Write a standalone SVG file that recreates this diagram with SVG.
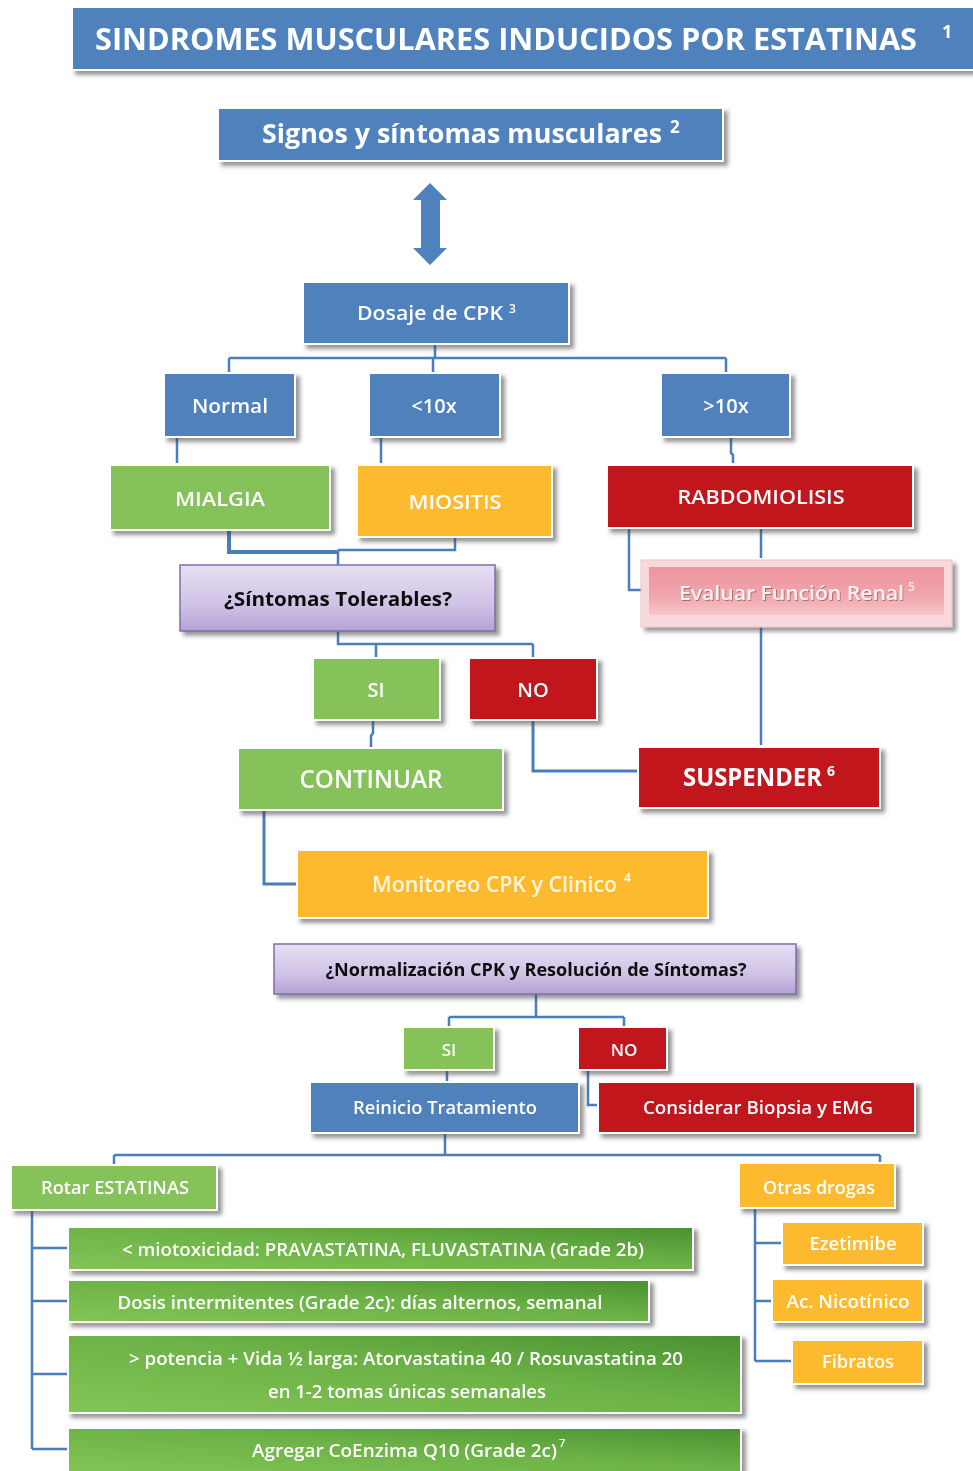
<svg xmlns="http://www.w3.org/2000/svg" width="973" height="1471" viewBox="0 0 973 1471">
<defs>
<filter id="sh" x="-5%" y="-10%" width="115%" height="140%">
<feDropShadow dx="4" dy="4" stdDeviation="2" flood-color="#404040" flood-opacity="0.55"/>
</filter>
<filter id="ts" x="-5%" y="-20%" width="110%" height="150%">
<feDropShadow dx="1" dy="1" stdDeviation="0.6" flood-color="#000" flood-opacity="0.35"/>
</filter>
<linearGradient id="lav" x1="0" y1="0" x2="0" y2="1">
<stop offset="0" stop-color="#E7DFF3"/><stop offset="0.6" stop-color="#CFC2E6"/><stop offset="1" stop-color="#B4A2D5"/>
</linearGradient>
<linearGradient id="pink" x1="0" y1="0" x2="0" y2="1">
<stop offset="0" stop-color="#EE959E"/><stop offset="0.6" stop-color="#F1A5AC"/><stop offset="1" stop-color="#F6C6CA"/>
</linearGradient>
<linearGradient id="grn" x1="0" y1="1" x2="1" y2="0">
<stop offset="0" stop-color="#83C457"/><stop offset="0.55" stop-color="#6CB246"/><stop offset="1" stop-color="#4A9130"/>
</linearGradient>
<style>
.b{fill:#4F81BD;stroke:#fff;stroke-width:2}
.g{fill:#86C25A;stroke:#fff;stroke-width:2}
.y{fill:#FDBA2D;stroke:#fff;stroke-width:2}
.r{fill:#C1161F;stroke:#fff;stroke-width:2}
.l{fill:url(#lav);stroke:#7E6CAB;stroke-width:1.5}
.gg{fill:url(#grn);stroke:#fff;stroke-width:2}
.t{font-family:"Open Sans","Noto Sans",sans-serif;font-weight:600;fill:#fff;text-anchor:middle}
.k{font-family:"Open Sans","Noto Sans",sans-serif;font-weight:700;fill:#111;text-anchor:middle}
.s{font-family:"Open Sans","Noto Sans",sans-serif;font-weight:600;fill:#fff}
.h{font-family:"Open Sans","Noto Sans",sans-serif;font-weight:700;fill:#fff}
.c{fill:none;stroke:#4A7EBB;stroke-width:2.5}
</style>
</defs>
<rect width="973" height="1471" fill="#fff"/>

<g id="connectors">
<path class="c" d="M435 345 V358 M229 358 H726 M229 358 V373 M433 358 V373 M726 358 V373"/>
<path class="c" d="M177 437 V463 M381 437 V463 M731 437 V453 L733 455 V463"/>
<path class="c" d="M229 530 V552 H338" style="stroke-width:4"/>
<path class="c" d="M455 537 V550 H338 M338 550 V565"/>
<path class="c" d="M629 528 V590 H641 M761 528 V558"/>
<path class="c" d="M761 627 V745"/>
<path class="c" d="M338 631 V644 H533 M376 644 V658 M533 644 V658"/>
<path class="c" d="M373 720 V733 L371 736 V748"/>
<path class="c" d="M533 720 V771 H638" style="stroke-width:3"/>
<path class="c" d="M264 810 V884 H297" style="stroke-width:3"/>
<path class="c" d="M536 994 V1017 M449 1017 H624 M449 1017 V1027 M624 1017 V1027"/>
<path class="c" d="M447 1070 V1082 M588 1070 V1105 H598"/>
<path class="c" d="M445 1133 V1155 M114 1155 H880 M114 1155 V1165 M880 1155 V1163"/>
<path class="c" d="M32 1210 V1449 M32 1248 H68 M32 1301 H68 M32 1374 H68 M32 1449 H68"/>
<path class="c" d="M755 1208 V1361 M755 1243 H782 M755 1301 H772 M755 1361 H792"/>
</g>

<g id="title" filter="url(#sh)">
<rect class="b" x="72" y="7" width="910" height="63"/>
<text class="h" x="95" y="50" font-size="31" textLength="822" lengthAdjust="spacingAndGlyphs">SINDROMES MUSCULARES INDUCIDOS POR ESTATINAS</text>
<text class="h" x="942" y="38" font-size="18">1</text>
</g>

<g id="signos" filter="url(#sh)">
<rect class="b" x="218" y="108" width="505" height="53"/>
<text class="h" x="262" y="143" font-size="27" textLength="400" lengthAdjust="spacingAndGlyphs">Signos y síntomas musculares</text>
<text class="h" x="670" y="133" font-size="17">2</text>
</g>

<g id="arrow">
<path d="M430 183 L447 200 H440 V248 H447 L430 265 L413 248 H421 V200 H413 Z" fill="#4F81BD"/>
</g>

<g id="dosaje" filter="url(#sh)">
<rect class="b" x="303" y="282" width="266" height="62"/>
<text class="s" x="357" y="320" font-size="20" textLength="146" lengthAdjust="spacingAndGlyphs">Dosaje de CPK</text>
<text class="s" x="509" y="313" font-size="12">3</text>
</g>

<g id="normal" filter="url(#sh)">
<rect class="b" x="164" y="373" width="131" height="64"/>
<text class="t" x="230" y="413" font-size="20" textLength="76" lengthAdjust="spacingAndGlyphs">Normal</text>
</g>
<g id="menos10x" filter="url(#sh)">
<rect class="b" x="369" y="373" width="131" height="64"/>
<text class="t" x="434" y="413" font-size="20">&lt;10x</text>
</g>
<g id="mas10x" filter="url(#sh)">
<rect class="b" x="661" y="373" width="129" height="64"/>
<text class="t" x="726" y="413" font-size="20">&gt;10x</text>
</g>

<g id="mialgia" filter="url(#sh)">
<rect class="g" x="110" y="465" width="220" height="65"/>
<text class="t" x="220" y="506" font-size="20" textLength="90" lengthAdjust="spacingAndGlyphs">MIALGIA</text>
</g>
<g id="miositis" filter="url(#sh)">
<rect class="y" x="357" y="465" width="195" height="72"/>
<text class="t" x="455" y="509" font-size="20" textLength="93" lengthAdjust="spacingAndGlyphs">MIOSITIS</text>
</g>
<g id="rabdomiolisis" filter="url(#sh)">
<rect class="r" x="607" y="465" width="306" height="63"/>
<text class="t" x="761" y="504" font-size="20" textLength="167" lengthAdjust="spacingAndGlyphs">RABDOMIOLISIS</text>
</g>

<g id="sintomas" filter="url(#sh)">
<rect class="l" x="180" y="565" width="315" height="66"/>
<text class="k" x="338" y="606" font-size="20" textLength="228" lengthAdjust="spacingAndGlyphs">¿Síntomas Tolerables?</text>
</g>

<g id="evaluar" filter="url(#sh)">
<rect x="641" y="560" width="311" height="67" fill="#F9D8DB" stroke="#E8C5C8" stroke-width="1"/>
<rect x="649" y="567" width="295" height="48" fill="url(#pink)"/>
<text class="s" x="679" y="600" font-size="20" textLength="225" lengthAdjust="spacingAndGlyphs" style="fill:#FBEFF0" filter="url(#ts)">Evaluar Función Renal</text>
<text class="s" x="908" y="591" font-size="12" style="fill:#FBEFF0">5</text>
</g>

<g id="si1" filter="url(#sh)">
<rect class="g" x="313" y="658" width="127" height="62"/>
<text class="t" x="376" y="697" font-size="20">SI</text>
</g>
<g id="no1" filter="url(#sh)">
<rect class="r" x="469" y="658" width="128" height="62"/>
<text class="t" x="533" y="697" font-size="20">NO</text>
</g>

<g id="continuar" filter="url(#sh)">
<rect class="g" x="238" y="748" width="265" height="62"/>
<text class="t" x="371" y="788" font-size="26" textLength="143" lengthAdjust="spacingAndGlyphs">CONTINUAR</text>
</g>
<g id="suspender" filter="url(#sh)">
<rect class="r" x="638" y="747" width="242" height="61"/>
<text class="h" x="683" y="786" font-size="25" textLength="139" lengthAdjust="spacingAndGlyphs">SUSPENDER</text>
<text class="h" x="827" y="776" font-size="14">6</text>
</g>

<g id="monitoreo" filter="url(#sh)">
<rect class="y" x="297" y="850" width="411" height="68"/>
<text class="s" x="372" y="892" font-size="21" textLength="245" lengthAdjust="spacingAndGlyphs" style="fill:#FFF6E0">Monitoreo CPK y Clinico</text>
<text class="s" x="624" y="882" font-size="12">4</text>
</g>

<g id="normalizacion" filter="url(#sh)">
<rect class="l" x="274" y="944" width="522" height="50"/>
<text class="k" x="536" y="976" font-size="18" textLength="421" lengthAdjust="spacingAndGlyphs">¿Normalización CPK y Resolución de Síntomas?</text>
</g>

<g id="si2" filter="url(#sh)">
<rect class="g" x="403" y="1027" width="91" height="43"/>
<text class="t" x="449" y="1056" font-size="17">SI</text>
</g>
<g id="no2" filter="url(#sh)">
<rect class="r" x="578" y="1027" width="89" height="43"/>
<text class="t" x="624" y="1056" font-size="17">NO</text>
</g>

<g id="reinicio" filter="url(#sh)">
<rect class="b" x="310" y="1082" width="269" height="51"/>
<text class="t" x="445" y="1114" font-size="18" textLength="184" lengthAdjust="spacingAndGlyphs">Reinicio Tratamiento</text>
</g>
<g id="considerar" filter="url(#sh)">
<rect class="r" x="598" y="1082" width="317" height="51"/>
<text class="t" x="758" y="1114" font-size="18" textLength="230" lengthAdjust="spacingAndGlyphs">Considerar Biopsia y EMG</text>
</g>

<g id="rotar" filter="url(#sh)">
<rect class="g" x="11" y="1165" width="206" height="45"/>
<text class="t" x="115" y="1194" font-size="18" textLength="148" lengthAdjust="spacingAndGlyphs">Rotar ESTATINAS</text>
</g>
<g id="otras" filter="url(#sh)">
<rect class="y" x="739" y="1163" width="156" height="45"/>
<text class="t" x="819" y="1194" font-size="18" textLength="112" lengthAdjust="spacingAndGlyphs">Otras drogas</text>
</g>

<g id="item1" filter="url(#sh)">
<rect class="gg" x="68" y="1227" width="625" height="43"/>
<text class="t" x="383" y="1256" font-size="18" textLength="522" lengthAdjust="spacingAndGlyphs">&lt; miotoxicidad: PRAVASTATINA, FLUVASTATINA (Grade 2b)</text>
</g>
<g id="item2" filter="url(#sh)">
<rect class="gg" x="68" y="1280" width="581" height="42"/>
<text class="t" x="360" y="1309" font-size="18" textLength="485" lengthAdjust="spacingAndGlyphs">Dosis intermitentes (Grade 2c): días alternos, semanal</text>
</g>
<g id="item3" filter="url(#sh)">
<rect class="gg" x="68" y="1335" width="673" height="78"/>
<text class="t" x="406" y="1365" font-size="18" textLength="554" lengthAdjust="spacingAndGlyphs">&gt; potencia + Vida ½ larga: Atorvastatina 40 / Rosuvastatina 20</text>
<text class="t" x="407" y="1398" font-size="18" textLength="278" lengthAdjust="spacingAndGlyphs">en 1-2 tomas únicas semanales</text>
</g>
<g id="item4" filter="url(#sh)">
<rect class="gg" x="68" y="1428" width="673" height="45"/>
<text class="s" x="252" y="1457" font-size="18" textLength="305" lengthAdjust="spacingAndGlyphs">Agregar CoEnzima Q10 (Grade 2c)</text>
<text class="s" x="559" y="1447" font-size="11">7</text>
</g>

<g id="ezetimibe" filter="url(#sh)">
<rect class="y" x="782" y="1222" width="141" height="43"/>
<text class="t" x="853" y="1250" font-size="18" textLength="87" lengthAdjust="spacingAndGlyphs">Ezetimibe</text>
</g>
<g id="nicotinico" filter="url(#sh)">
<rect class="y" x="772" y="1279" width="151" height="43"/>
<text class="t" x="848" y="1308" font-size="18" textLength="123" lengthAdjust="spacingAndGlyphs">Ac. Nicotínico</text>
</g>
<g id="fibratos" filter="url(#sh)">
<rect class="y" x="792" y="1340" width="131" height="44"/>
<text class="t" x="858" y="1368" font-size="18" textLength="72" lengthAdjust="spacingAndGlyphs">Fibratos</text>
</g>
</svg>
